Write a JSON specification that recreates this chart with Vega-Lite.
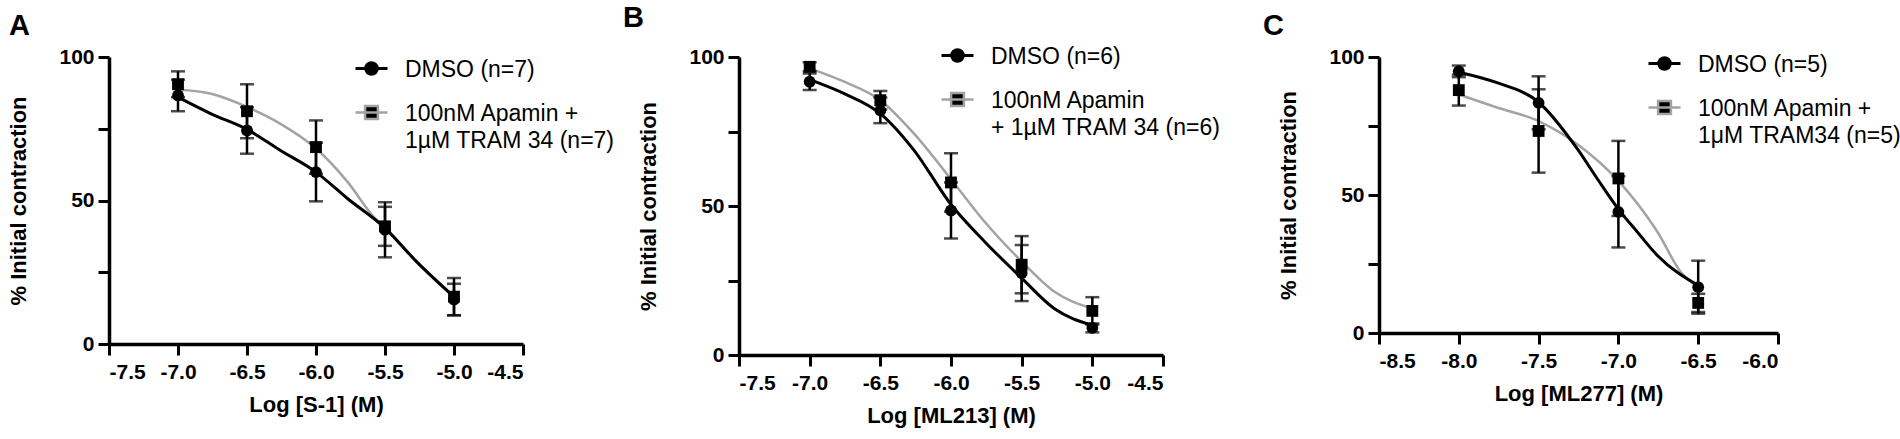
{
  "$schema": "https://vega.github.io/schema/vega-lite/v6.json",
  "padding": {"left": 7, "top": 4, "right": 0, "bottom": 5},
  "background": "white",
  "bounds": "flush",
  "spacing": 216,
  "resolve": {
    "scale": {"color": "independent", "strokeWidth": "independent", "x": "independent", "y": "independent"},
    "legend": {"color": "independent"}
  },
  "datasets": {
    "A_fit": [
      {"series": "Apamin", "logc": -7.0, "pct": 88.7},
      {"series": "Apamin", "logc": -6.76, "pct": 87.2},
      {"series": "Apamin", "logc": -6.5, "pct": 82.6},
      {"series": "Apamin", "logc": -6.26, "pct": 76.8},
      {"series": "Apamin", "logc": -6.0, "pct": 68.1},
      {"series": "Apamin", "logc": -5.77, "pct": 56.4},
      {"series": "Apamin", "logc": -5.58, "pct": 44.2},
      {"series": "Apamin", "logc": -5.5, "pct": 40.6},
      {"series": "Apamin", "logc": -5.27, "pct": 28.8},
      {"series": "Apamin", "logc": -5.0, "pct": 16.6},
      {"series": "DMSO", "logc": -7.0, "pct": 86.0},
      {"series": "DMSO", "logc": -6.76, "pct": 80.2},
      {"series": "DMSO", "logc": -6.5, "pct": 74.8},
      {"series": "DMSO", "logc": -6.26, "pct": 67.5},
      {"series": "DMSO", "logc": -6.0, "pct": 59.9},
      {"series": "DMSO", "logc": -5.77, "pct": 50.6},
      {"series": "DMSO", "logc": -5.5, "pct": 40.4},
      {"series": "DMSO", "logc": -5.27, "pct": 28.6},
      {"series": "DMSO", "logc": -5.0, "pct": 16.4}
    ],
    "A_pts": [
      {"series": "DMSO", "logc": -7.0, "mean": 86.6, "sem": 5.5},
      {"series": "DMSO", "logc": -6.5, "mean": 74.4, "sem": 8.1},
      {"series": "DMSO", "logc": -6.0, "mean": 59.9, "sem": 10.2},
      {"series": "DMSO", "logc": -5.5, "mean": 39.8, "sem": 9.6},
      {"series": "DMSO", "logc": -5.0, "mean": 15.5, "sem": 5.5},
      {"series": "Apamin", "logc": -7.0, "mean": 90.5, "sem": 4.5},
      {"series": "Apamin", "logc": -6.5, "mean": 81.1, "sem": 9.4},
      {"series": "Apamin", "logc": -6.0, "mean": 68.6, "sem": 9.3},
      {"series": "Apamin", "logc": -5.5, "mean": 41.0, "sem": 6.8},
      {"series": "Apamin", "logc": -5.0, "mean": 16.5, "sem": 6.5}
    ],
    "B_fit": [
      {"series": "Apamin", "logc": -7.0, "pct": 96.2},
      {"series": "Apamin", "logc": -6.755, "pct": 91.7},
      {"series": "Apamin", "logc": -6.5, "pct": 85.5},
      {"series": "Apamin", "logc": -6.26, "pct": 74.2},
      {"series": "Apamin", "logc": -6.0, "pct": 59.0},
      {"series": "Apamin", "logc": -5.765, "pct": 44.9},
      {"series": "Apamin", "logc": -5.5, "pct": 31.4},
      {"series": "Apamin", "logc": -5.27, "pct": 21.3},
      {"series": "Apamin", "logc": -5.0, "pct": 15.6},
      {"series": "DMSO", "logc": -7.0, "pct": 92.4},
      {"series": "DMSO", "logc": -6.755, "pct": 87.7},
      {"series": "DMSO", "logc": -6.5, "pct": 81.0},
      {"series": "DMSO", "logc": -6.26, "pct": 68.6},
      {"series": "DMSO", "logc": -6.0, "pct": 50.5},
      {"series": "DMSO", "logc": -5.765, "pct": 38.2},
      {"series": "DMSO", "logc": -5.5, "pct": 25.8},
      {"series": "DMSO", "logc": -5.27, "pct": 15.6},
      {"series": "DMSO", "logc": -5.0, "pct": 10.0}
    ],
    "B_pts": [
      {"series": "DMSO", "logc": -7.0, "mean": 91.7, "sem": 2.8},
      {"series": "DMSO", "logc": -6.5, "mean": 82.1, "sem": 4.3},
      {"series": "DMSO", "logc": -6.0, "mean": 48.5, "sem": 9.4},
      {"series": "DMSO", "logc": -5.5, "mean": 27.5, "sem": 9.4},
      {"series": "DMSO", "logc": -5.0, "mean": 9.1, "sem": 1.5},
      {"series": "Apamin", "logc": -7.0, "mean": 96.7, "sem": 1.5},
      {"series": "Apamin", "logc": -6.5, "mean": 85.5, "sem": 3.1},
      {"series": "Apamin", "logc": -6.0, "mean": 57.9, "sem": 9.8},
      {"series": "Apamin", "logc": -5.5, "mean": 30.3, "sem": 9.6},
      {"series": "Apamin", "logc": -5.0, "mean": 14.8, "sem": 4.6}
    ],
    "C_fit": [
      {"series": "Apamin", "logc": -8.0, "pct": 86.4},
      {"series": "Apamin", "logc": -7.756, "pct": 81.6},
      {"series": "Apamin", "logc": -7.5, "pct": 76.8},
      {"series": "Apamin", "logc": -7.255, "pct": 68.3},
      {"series": "Apamin", "logc": -7.0, "pct": 55.1},
      {"series": "Apamin", "logc": -6.754, "pct": 36.5},
      {"series": "Apamin", "logc": -6.608, "pct": 22.0},
      {"series": "Apamin", "logc": -6.5, "pct": 16.6},
      {"series": "DMSO", "logc": -8.0, "pct": 94.5},
      {"series": "DMSO", "logc": -7.756, "pct": 90.6},
      {"series": "DMSO", "logc": -7.5, "pct": 83.6},
      {"series": "DMSO", "logc": -7.255, "pct": 66.5},
      {"series": "DMSO", "logc": -7.13, "pct": 55.7},
      {"series": "DMSO", "logc": -7.0, "pct": 44.9},
      {"series": "DMSO", "logc": -6.88, "pct": 36.5},
      {"series": "DMSO", "logc": -6.754, "pct": 28.0},
      {"series": "DMSO", "logc": -6.5, "pct": 17.2}
    ],
    "C_pts": [
      {"series": "DMSO", "logc": -8.0, "mean": 94.8, "sem": 2.1},
      {"series": "DMSO", "logc": -7.5, "mean": 83.4, "sem": 9.6},
      {"series": "DMSO", "logc": -7.0, "mean": 43.9, "sem": 12.9},
      {"series": "DMSO", "logc": -6.5, "mean": 16.6, "sem": 9.6},
      {"series": "Apamin", "logc": -8.0, "mean": 88.0, "sem": 5.6},
      {"series": "Apamin", "logc": -7.5, "mean": 73.2, "sem": 15.1},
      {"series": "Apamin", "logc": -7.0, "mean": 56.0, "sem": 13.6},
      {"series": "Apamin", "logc": -6.5, "mean": 10.9, "sem": 3.3}
    ]
  },
  "hconcat": [
    {
      "width": 414,
      "height": 287,
      "title": {"text": "A", "dx": -100},
      "layer": [
        {
          "data": {"name": "A_fit"},
          "mark": {"type": "line", "interpolate": "monotone"},
          "encoding": {
            "x": {"field": "logc", "type": "quantitative", "scale": {"domain": [-7.5, -4.5], "nice": false, "zero": false},
              "axis": {"values": [-7.5, -7.0, -6.5, -6.0, -5.5, -5.0, -4.5], "format": ".1f", "labelExpr": "replace(datum.label, '\u2212', '-')"},
              "title": "Log [S-1] (M)"},
            "y": {"field": "pct", "type": "quantitative", "scale": {"domain": [0, 100], "nice": false},
              "axis": {"values": [0, 25, 50, 75, 100], "labelExpr": "datum.value % 50 == 0 ? datum.label : ''"},
              "title": "% Initial contraction"},
            "color": {"field": "series", "type": "nominal",
              "scale": {"domain": ["DMSO", "Apamin"], "range": ["black", "#a3a3a3"]},
              "legend": {"legendX": 245, "legendY": -6,
                "labelExpr": "datum.label == 'DMSO' ? 'DMSO (n=7)' : ['100nM Apamin +', '1\u00b5M TRAM 34 (n=7)']",
                "encode": {
                  "symbols": {"update": {
                    "shape": {"signal": "datum.value == 'DMSO' ? 'M-1,0H1M0.36,0A0.36,0.36,0,1,1,-0.36,0A0.36,0.36,0,1,1,0.36,0Z' : 'M-1,0H1M-0.4,-0.4H0.4V0.4H-0.4Z'"},
                    "fill": {"value": "black"},
                    "stroke": {"signal": "datum.value == 'DMSO' ? 'black' : '#a3a3a3'"},
                    "strokeWidth": {"signal": "datum.value == 'DMSO' ? 3 : 2"},
                    "size": {"value": 1024},
                    "opacity": {"value": 1}}},
                  "labels": {"update": {"baseline": {"value": "top"}, "dy": {"value": -10}, "lineHeight": {"value": 27}}}
                }}},
            "strokeWidth": {"field": "series", "type": "nominal", "scale": {"domain": ["DMSO", "Apamin"], "range": [3, 2.5]}, "legend": null}
          }
        },
        {
          "data": {"name": "A_pts"},
          "mark": {"type": "errorbar", "ticks": {"thickness": 2.5}, "size": 14, "thickness": 2.5, "color": "black"},
          "encoding": {
            "x": {"field": "logc", "type": "quantitative", "title": "Log [S-1] (M)"},
            "y": {"field": "mean", "type": "quantitative", "title": "% Initial contraction"},
            "yError": {"field": "sem"}
          }
        },
        {
          "data": {"name": "A_pts"},
          "mark": {"type": "point", "filled": true, "opacity": 1, "color": "black", "size": 140},
          "encoding": {
            "x": {"field": "logc", "type": "quantitative", "title": "Log [S-1] (M)"},
            "y": {"field": "mean", "type": "quantitative", "title": "% Initial contraction"},
            "shape": {"condition": {"test": "datum.series == 'DMSO'", "value": "circle"}, "value": "square"}
          }
        }
      ]
    },
    {
      "width": 424,
      "height": 298,
      "title": {"text": "B", "dx": -116},
      "layer": [
        {
          "data": {"name": "B_fit"},
          "mark": {"type": "line", "interpolate": "monotone"},
          "encoding": {
            "x": {"field": "logc", "type": "quantitative", "scale": {"domain": [-7.5, -4.5], "nice": false, "zero": false},
              "axis": {"values": [-7.5, -7.0, -6.5, -6.0, -5.5, -5.0, -4.5], "format": ".1f", "labelExpr": "replace(datum.label, '\u2212', '-')"},
              "title": "Log [ML213] (M)"},
            "y": {"field": "pct", "type": "quantitative", "scale": {"domain": [0, 100], "nice": false},
              "axis": {"values": [0, 25, 50, 75, 100], "labelExpr": "datum.value % 50 == 0 ? datum.label : ''"},
              "title": "% Initial contraction"},
            "color": {"field": "series", "type": "nominal",
              "scale": {"domain": ["DMSO", "Apamin"], "range": ["black", "#a3a3a3"]},
              "legend": {"legendX": 201, "legendY": -19,
                "labelExpr": "datum.label == 'DMSO' ? 'DMSO (n=6)' : ['100nM Apamin', '+ 1\u00b5M TRAM 34 (n=6)']",
                "encode": {
                  "symbols": {"update": {
                    "shape": {"signal": "datum.value == 'DMSO' ? 'M-1,0H1M0.36,0A0.36,0.36,0,1,1,-0.36,0A0.36,0.36,0,1,1,0.36,0Z' : 'M-1,0H1M-0.4,-0.4H0.4V0.4H-0.4Z'"},
                    "fill": {"value": "black"},
                    "stroke": {"signal": "datum.value == 'DMSO' ? 'black' : '#a3a3a3'"},
                    "strokeWidth": {"signal": "datum.value == 'DMSO' ? 3 : 2"},
                    "size": {"value": 1024},
                    "opacity": {"value": 1}}},
                  "labels": {"update": {"baseline": {"value": "top"}, "dy": {"value": -10}, "lineHeight": {"value": 27}}}
                }}},
            "strokeWidth": {"field": "series", "type": "nominal", "scale": {"domain": ["DMSO", "Apamin"], "range": [3, 2.5]}, "legend": null}
          }
        },
        {
          "data": {"name": "B_pts"},
          "mark": {"type": "errorbar", "ticks": {"thickness": 2.5}, "size": 14, "thickness": 2.5, "color": "black"},
          "encoding": {
            "x": {"field": "logc", "type": "quantitative", "title": "Log [ML213] (M)"},
            "y": {"field": "mean", "type": "quantitative", "title": "% Initial contraction"},
            "yError": {"field": "sem"}
          }
        },
        {
          "data": {"name": "B_pts"},
          "mark": {"type": "point", "filled": true, "opacity": 1, "color": "black", "size": 140},
          "encoding": {
            "x": {"field": "logc", "type": "quantitative", "title": "Log [ML213] (M)"},
            "y": {"field": "mean", "type": "quantitative", "title": "% Initial contraction"},
            "shape": {"condition": {"test": "datum.series == 'DMSO'", "value": "circle"}, "value": "square"}
          }
        }
      ]
    },
    {
      "width": 399,
      "height": 276,
      "title": {"text": "C", "dx": -116},
      "layer": [
        {
          "data": {"name": "C_fit"},
          "mark": {"type": "line", "interpolate": "monotone"},
          "encoding": {
            "x": {"field": "logc", "type": "quantitative", "scale": {"domain": [-8.5, -6.0], "nice": false, "zero": false},
              "axis": {"values": [-8.5, -8.0, -7.5, -7.0, -6.5, -6.0], "format": ".1f", "labelExpr": "replace(datum.label, '\u2212', '-')"},
              "title": "Log [ML277] (M)"},
            "y": {"field": "pct", "type": "quantitative", "scale": {"domain": [0, 100], "nice": false},
              "axis": {"values": [0, 25, 50, 75, 100], "labelExpr": "datum.value % 50 == 0 ? datum.label : ''"},
              "title": "% Initial contraction"},
            "color": {"field": "series", "type": "nominal",
              "scale": {"domain": ["DMSO", "Apamin"], "range": ["black", "#a3a3a3"]},
              "legend": {"legendX": 268, "legendY": -11,
                "labelExpr": "datum.label == 'DMSO' ? 'DMSO (n=5)' : ['100nM Apamin +', '1\u03bcM TRAM34 (n=5)']",
                "encode": {
                  "symbols": {"update": {
                    "shape": {"signal": "datum.value == 'DMSO' ? 'M-1,0H1M0.36,0A0.36,0.36,0,1,1,-0.36,0A0.36,0.36,0,1,1,0.36,0Z' : 'M-1,0H1M-0.4,-0.4H0.4V0.4H-0.4Z'"},
                    "fill": {"value": "black"},
                    "stroke": {"signal": "datum.value == 'DMSO' ? 'black' : '#a3a3a3'"},
                    "strokeWidth": {"signal": "datum.value == 'DMSO' ? 3 : 2"},
                    "size": {"value": 1024},
                    "opacity": {"value": 1}}},
                  "labels": {"update": {"baseline": {"value": "top"}, "dy": {"value": -10}, "lineHeight": {"value": 27}}}
                }}},
            "strokeWidth": {"field": "series", "type": "nominal", "scale": {"domain": ["DMSO", "Apamin"], "range": [3, 2.5]}, "legend": null}
          }
        },
        {
          "data": {"name": "C_pts"},
          "mark": {"type": "errorbar", "ticks": {"thickness": 2.5}, "size": 14, "thickness": 2.5, "color": "black"},
          "encoding": {
            "x": {"field": "logc", "type": "quantitative", "title": "Log [ML277] (M)"},
            "y": {"field": "mean", "type": "quantitative", "title": "% Initial contraction"},
            "yError": {"field": "sem"}
          }
        },
        {
          "data": {"name": "C_pts"},
          "mark": {"type": "point", "filled": true, "opacity": 1, "color": "black", "size": 140},
          "encoding": {
            "x": {"field": "logc", "type": "quantitative", "title": "Log [ML277] (M)"},
            "y": {"field": "mean", "type": "quantitative", "title": "% Initial contraction"},
            "shape": {"condition": {"test": "datum.series == 'DMSO'", "value": "circle"}, "value": "square"}
          }
        }
      ]
    }
  ],
  "config": {
    "view": {"stroke": null},
    "font": "Liberation Sans",
    "title": {"anchor": "start", "frame": "group", "fontSize": 29, "fontWeight": "bold", "color": "black", "offset": 5},
    "axis": {
      "grid": false,
      "domainColor": "black",
      "domainWidth": 3.5,
      "tickColor": "black",
      "tickWidth": 3,
      "tickSize": 11,
      "labelFontSize": 21,
      "labelFontWeight": "bold",
      "labelColor": "black",
      "titleFontSize": 22,
      "titleFontWeight": "bold",
      "titleColor": "black"
    },
    "axisX": {"labelPadding": 6, "titlePadding": 12},
    "axisY": {"labelPadding": 4, "titlePadding": 28},
    "legend": {
      "orient": "none",
      "title": null,
      "padding": 0,
      "symbolSize": 1024,
      "symbolType": "M-1,0H1",
      "symbolStrokeWidth": 2.5,
      "labelFontSize": 23,
      "labelColor": "black",
      "labelLimit": 400,
      "labelOffset": 16,
      "rowPadding": 13
    }
  }
}
